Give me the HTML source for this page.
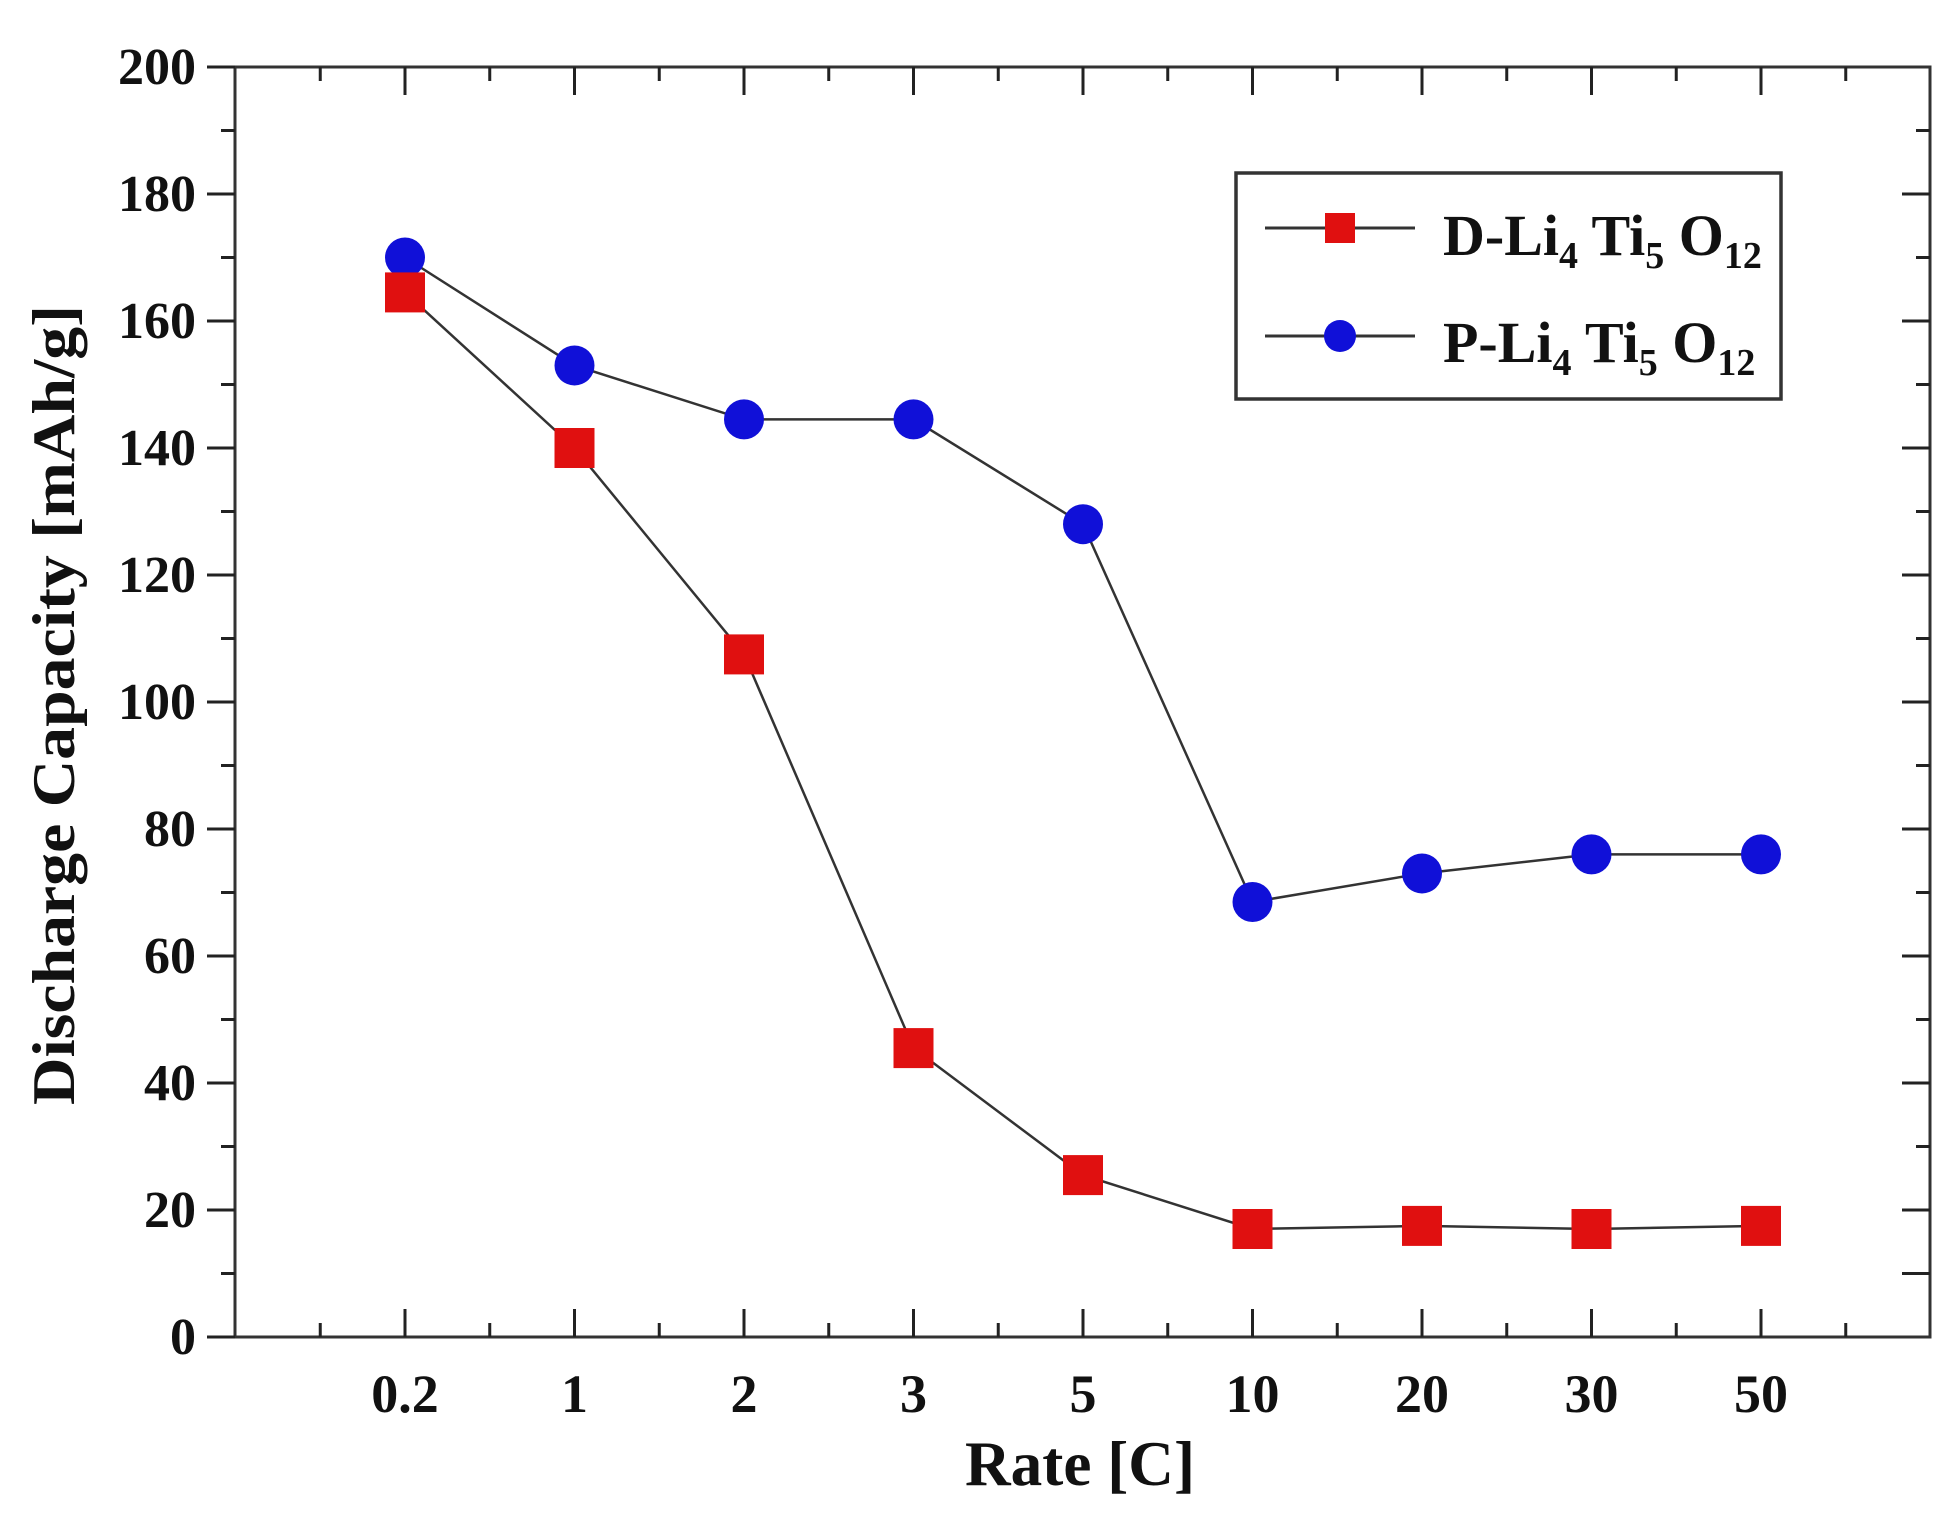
<!DOCTYPE html>
<html><head><meta charset="utf-8"><style>html,body{margin:0;padding:0;background:#fff}svg{display:block}</style></head>
<body>
<svg width="1957" height="1520" viewBox="0 0 1957 1520" xmlns="http://www.w3.org/2000/svg" font-family="'Liberation Serif', serif" font-weight="bold">
<rect width="1957" height="1520" fill="#fff"/>
<rect x="235" y="67" width="1695" height="1270" stroke="#333" stroke-width="3" fill="none"/>
<path stroke="#222" stroke-width="3" fill="none" d="
M207 1337H235 M221 1273.5H235 M207 1210H235 M221 1146.5H235 M207 1083H235 M221 1019.5H235 M207 956H235 M221 892.5H235 M207 829H235 M221 765.5H235 M207 702H235 M221 638.5H235 M207 575H235 M221 511.5H235 M207 448H235 M221 384.5H235 M207 321H235 M221 257.5H235 M207 194H235 M221 130.5H235 M207 67H235
M1902 1273.5H1930 M1916 1273.5H1930 M1902 1210H1930 M1916 1146.5H1930 M1902 1083H1930 M1916 1019.5H1930 M1902 956H1930 M1916 892.5H1930 M1902 829H1930 M1916 765.5H1930 M1902 702H1930 M1916 638.5H1930 M1902 575H1930 M1916 511.5H1930 M1902 448H1930 M1916 384.5H1930 M1902 321H1930 M1916 257.5H1930 M1902 194H1930 M1916 130.5H1930
M320.25 1337V1323 M405 1337V1309 M489.75 1337V1323 M574.5 1337V1309 M659.25 1337V1323 M744 1337V1309 M828.75 1337V1323 M913.5 1337V1309 M998.25 1337V1323 M1083 1337V1309 M1167.75 1337V1323 M1252.5 1337V1309 M1337.25 1337V1323 M1422 1337V1309 M1506.75 1337V1323 M1591.5 1337V1309 M1676.25 1337V1323 M1761 1337V1309 M1845.75 1337V1323
M320.25 67V81 M405 67V95 M489.75 67V81 M574.5 67V95 M659.25 67V81 M744 67V95 M828.75 67V81 M913.5 67V95 M998.25 67V81 M1083 67V95 M1167.75 67V81 M1252.5 67V95 M1337.25 67V81 M1422 67V95 M1506.75 67V81 M1591.5 67V95 M1676.25 67V81 M1761 67V95 M1845.75 67V81"/>
<g font-size="52" text-anchor="end" fill="#111">
<text x="196" y="1354">0</text><text x="196" y="1227">20</text><text x="196" y="1100">40</text><text x="196" y="973">60</text><text x="196" y="846">80</text><text x="196" y="719">100</text><text x="196" y="592">120</text><text x="196" y="465">140</text><text x="196" y="338">160</text><text x="196" y="211">180</text><text x="196" y="84">200</text>
</g>
<g font-size="54" text-anchor="middle" fill="#111">
<text x="405" y="1412">0.2</text><text x="574.5" y="1412">1</text><text x="744" y="1412">2</text><text x="913.5" y="1412">3</text><text x="1083" y="1412">5</text><text x="1252.5" y="1412">10</text><text x="1422" y="1412">20</text><text x="1591.5" y="1412">30</text><text x="1761" y="1412">50</text>
</g>
<polyline fill="none" stroke="#333" stroke-width="2.5" points="405,257.5 574.5,365.45 744,419.4 913.5,419.4 1083,524.2 1252.5,902 1422,873.45 1591.5,854.4 1761,854.4"/>
<polyline fill="none" stroke="#333" stroke-width="2.5" points="405,292.4 574.5,448 744,654.4 913.5,1048.1 1083,1175.1 1252.5,1229 1422,1225.9 1591.5,1229 1761,1225.9"/>
<g fill="#1010d8">
<circle cx="405" cy="257.5" r="20"/><circle cx="574.5" cy="365.45" r="20"/><circle cx="744" cy="419.4" r="20"/><circle cx="913.5" cy="419.4" r="20"/><circle cx="1083" cy="524.2" r="20"/><circle cx="1252.5" cy="902" r="20"/><circle cx="1422" cy="873.45" r="20"/><circle cx="1591.5" cy="854.4" r="20"/><circle cx="1761" cy="854.4" r="20"/>
</g>
<g fill="#e01010">
<rect x="385" y="272.4" width="40" height="40"/><rect x="554.5" y="428" width="40" height="40"/><rect x="724" y="634.4" width="40" height="40"/><rect x="893.5" y="1028.1" width="40" height="40"/><rect x="1063" y="1155.1" width="40" height="40"/><rect x="1232.5" y="1209" width="40" height="40"/><rect x="1402" y="1205.9" width="40" height="40"/><rect x="1571.5" y="1209" width="40" height="40"/><rect x="1741" y="1205.9" width="40" height="40"/>
</g>
<text x="1080" y="1485" font-size="64" text-anchor="middle" fill="#111" textLength="230" lengthAdjust="spacingAndGlyphs">Rate [C]</text>
<text transform="translate(74,705) rotate(-90)" font-size="60" text-anchor="middle" fill="#111" textLength="800" lengthAdjust="spacingAndGlyphs">Discharge Capacity [mAh/g]</text>
<rect x="1236" y="173" width="545" height="226" fill="#fff" stroke="#333" stroke-width="3.5"/>
<line x1="1265" y1="228" x2="1415" y2="228" stroke="#333" stroke-width="3"/>
<rect x="1325" y="213" width="30" height="30" fill="#e01010"/>
<line x1="1265" y1="336" x2="1415" y2="336" stroke="#333" stroke-width="3"/>
<circle cx="1340" cy="336" r="16" fill="#1010d8"/>
<text x="1443" y="255" font-size="58" fill="#111">D-Li<tspan font-size="38" dy="13">4</tspan><tspan dy="-13"> Ti</tspan><tspan font-size="38" dy="13">5</tspan><tspan dy="-13"> O</tspan><tspan font-size="38" dy="13">12</tspan></text>
<text x="1443" y="362" font-size="58" fill="#111">P-Li<tspan font-size="38" dy="13">4</tspan><tspan dy="-13"> Ti</tspan><tspan font-size="38" dy="13">5</tspan><tspan dy="-13"> O</tspan><tspan font-size="38" dy="13">12</tspan></text>
</svg>
</body></html>
